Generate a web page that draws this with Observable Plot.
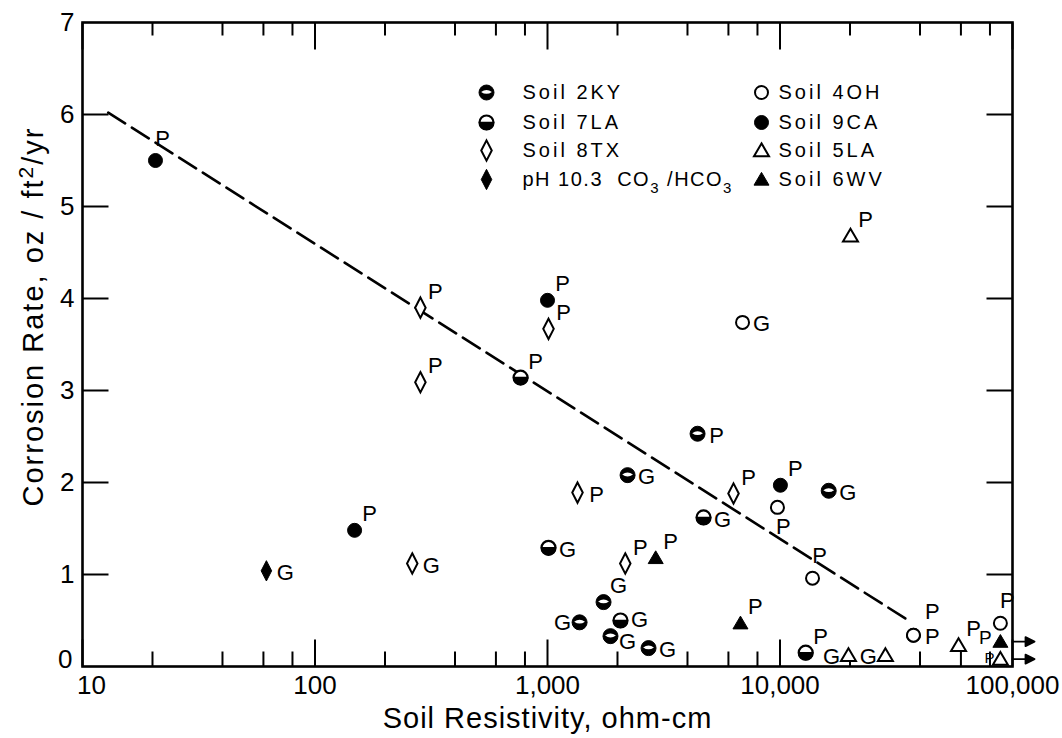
<!DOCTYPE html>
<html><head><meta charset="utf-8">
<script src="https://cdn.jsdelivr.net/npm/d3@7"></script>
<script src="https://cdn.jsdelivr.net/npm/@observablehq/plot@0.6"></script>
<style>
body{margin:0;background:#fff}
#chart{position:relative;width:1062px;height:738px}
</style>
</head><body><div id="chart"></div>
<script>
// ---------- data ----------
const soil = ["9CA","8TX","8TX","9CA","8TX","7LA","2KY","2KY","8TX","8TX",
              "7LA","9CA","4OH","2KY","7LA","8TX","6WV","4OH","9CA","pH",
              "8TX","4OH","5LA","2KY","2KY","7LA","2KY","2KY","6WV","7LA",
              "5LA","5LA","4OH","4OH","5LA","4OH","6WV","5LA"];
const resistivity = [20.6,284,284,1000,1010,766,4420,2210,1346,6310,
                     4690,10040,9750,16200,1010,2160,2920,13800,148,61.8,
                     262,6900,20100,1374,1742,2060,1866,2720,6760,12900,
                     19700,28400,37500,37500,58600,88700,88700,88700];
const rate = [5.50,3.90,3.09,3.98,3.67,3.14,2.53,2.08,1.89,1.88,
              1.62,1.97,1.73,1.91,1.29,1.12,1.18,0.96,1.48,1.04,
              1.12,3.74,4.68,0.48,0.70,0.50,0.33,0.20,0.47,0.15,
              0.12,0.12,0.34,0.34,0.23,0.47,0.27,0.08];
const pointLabel = ["P","P","P","P","P","P","P","G","P","P",
                    "G","P","P","G","G","P","P","P","P","G",
                    "G","G","P","G","G","G","G","G","P","P",
                    "G","G","P","P","P","P","P","P"];
const labelSide = ["t","tr","tr","tr","tr","tr","r","r","r","tr",
                   "r","tr","b","r","r","tr","tr","t","tr","r",
                   "r","r","tr","l","tr","ru","rd","r","tr","tr",
                   "l","l","ur","r","tr","t","el","ell"];
const beyondRange = [36, 37];        // rows plotted at the edge with an arrow (> 100,000)

const trendResistivity = [12.9, 34700];
const trendRate = [6.02, 0.52];

const legendSoil = ["2KY","7LA","8TX","pH","4OH","9CA","5LA","6WV"];
const legendText = ["Soil 2KY","Soil 7LA","Soil 8TX","pH 10.3  CO3 /HCO3",
                    "Soil 4OH","Soil 9CA","Soil 5LA","Soil 6WV"];

const xTickValues = [10,100,1000,10000,100000];
const xMinorTicks = [20,40,60,80,200,400,600,800,2000,4000,6000,8000,20000,40000,60000,80000];
const yTickValues = [0,1,2,3,4,5,6,7];
const xTitle = "Soil Resistivity, ohm-cm";
const yTitle = "Corrosion Rate, oz / ft2/yr";

// ---------- build ----------
const rows = soil.map((s,i)=>({soil:s,res:resistivity[i],rate:rate[i],label:pointLabel[i],side:labelSide[i],beyond:beyondRange.includes(i)}));
const trend = trendResistivity.map((x,i)=>({res:x,rate:trendRate[i]}));

const sym = draw => ({draw});
const rad = s => Math.sqrt(s/Math.PI);
const halfBottom = sym((c,s)=>{const r=rad(s); c.moveTo(r,0); c.arc(0,0,r,0,Math.PI); c.closePath();});
const lens = sym((c,s)=>{const r=rad(s); c.moveTo(-0.72*r,-0.08*r); c.quadraticCurveTo(0,-0.6*r,0.72*r,-0.08*r); c.quadraticCurveTo(0,0.42*r,-0.72*r,-0.08*r); c.closePath();});
const diamondTall = sym((c,s)=>{const r=rad(s); c.moveTo(0,-1.45*r); c.lineTo(0.75*r,0); c.lineTo(0,1.45*r); c.lineTo(-0.75*r,0); c.closePath();});
const tri = sym((c,s)=>{const r=rad(s); c.moveTo(0,-0.95*r); c.lineTo(r,0.75*r); c.lineTo(-r,0.75*r); c.closePath();});
const tickShape = {draw(c,l){c.moveTo(0,0); c.lineTo(0,-l);}};
const arrowShape = {draw(c,l){c.moveTo(0,0); c.lineTo(0,-l+6); c.moveTo(0,-l); c.lineTo(4.5,-l+9); c.lineTo(-4.5,-l+9); c.closePath();}};

const styles = {
  "2KY":[{symbol:"circle",fill:"black",stroke:"black",strokeWidth:1,r:7.5},{symbol:lens,fill:"white",r:7.5}],
  "7LA":[{symbol:"circle",fill:"white",stroke:"black",strokeWidth:2.2,r:7},{symbol:halfBottom,fill:"black",stroke:"black",strokeWidth:1.5,r:7}],
  "8TX":[{symbol:diamondTall,fill:"white",stroke:"black",strokeWidth:2,r:7}],
  "pH":[{symbol:diamondTall,fill:"black",stroke:"black",strokeWidth:1,r:7}],
  "4OH":[{symbol:"circle",fill:"white",stroke:"black",strokeWidth:2,r:6.5}],
  "9CA":[{symbol:"circle",fill:"black",stroke:"black",strokeWidth:1,r:7}],
  "5LA":[{symbol:tri,fill:"white",stroke:"black",strokeWidth:2,r:7.5}],
  "6WV":[{symbol:tri,fill:"black",stroke:"black",strokeWidth:1,r:7.5}]
};
// label placement relative to the symbol: [dx, dy, fontSize]
const offsets = {t:[7,-22,22],tr:[15,-16,22],ur:[19,-23,22],r:[19,2,22],ru:[19,-1,22],rd:[17,6,22],
                 b:[6,20,22],l:[-17,1,22],el:[-15,-4,19],ell:[-11,-1,15]};

const FONT = "'Liberation Sans', Arial, sans-serif";
const marks = [];
marks.push(Plot.frame({stroke:"black",strokeWidth:2.6}));
// inward ticks
const tk = (data, opts) => Plot.vector(data, {shape:tickShape, anchor:"start", stroke:"black", strokeWidth:2, strokeLinecap:"butt", ...opts});
marks.push(tk(xTickValues, {x:d=>d, y:()=>0, rotate:0, length:27}));
marks.push(tk(xMinorTicks, {x:d=>d, y:()=>0, rotate:0, length:15}));
marks.push(tk(xTickValues, {x:d=>d, y:()=>7, rotate:180, length:27}));
marks.push(tk(xMinorTicks, {x:d=>d, y:()=>7, rotate:180, length:13}));
marks.push(tk(yTickValues.slice(1,7), {x:()=>10, y:d=>d, rotate:90, length:26}));
marks.push(tk(yTickValues.slice(1,7), {x:()=>100000, y:d=>d, rotate:-90, length:26}));
// trend line
marks.push(Plot.line(trend, {x:"res", y:"rate", stroke:"black", strokeWidth:2.6, strokeDasharray:"20,8"}));
// arrows beyond 100,000
marks.push(Plot.vector(rows.filter(d=>d.beyond), {x:()=>100000, y:"rate", rotate:90, length:22, anchor:"start", shape:arrowShape, stroke:"black", fill:"black", strokeWidth:1.8}));
// points
for (const k of Object.keys(styles)) {
  const sub = rows.filter(d=>d.soil===k);
  for (const layer of styles[k]) marks.push(Plot.dot(sub, {x:"res", y:"rate", ...layer}));
}
// point labels
for (const [side,[dx,dy,fs]] of Object.entries(offsets)) {
  marks.push(Plot.text(rows.filter(d=>d.side===side), {x:"res", y:"rate", text:"label", dx, dy, fontSize:fs, fill:"black"}));
}
// legend
const colSym = [404, 679], colText = [440, 696], rowY = [70, 100, 128, 157];
legendSoil.forEach((k,i)=>{
  const col = Math.floor(i/4), row = i%4;
  for (const layer of styles[k]) marks.push(Plot.dot([k], {frameAnchor:"top-left", dx:colSym[col], dy:rowY[row], ...layer}));
  marks.push(Plot.text([legendText[i]], {text:d=>d, frameAnchor:"top-left", lineAnchor:"middle", dx:colText[col], dy:rowY[row], textAnchor:"start", fontSize:20, fill:"black"}));
});
// axes (the first labels are nudged apart at the corner, as in the original)
marks.push(Plot.axisX({ticks:xTickValues.slice(1), tickSize:0, tickPadding:9, tickFormat:d3.format(","), fontSize:26, label:null}));
marks.push(Plot.axisX({ticks:xTickValues.slice(0,1), tickSize:0, tickPadding:9, dx:9, tickFormat:d3.format(","), fontSize:26, label:null}));
marks.push(Plot.axisY({ticks:yTickValues.slice(1), tickSize:0, tickPadding:8, tickFormat:d3.format("d"), fontSize:26, label:null}));
marks.push(Plot.axisY({ticks:yTickValues.slice(0,1), tickSize:0, tickPadding:10, dy:-7, tickFormat:d3.format("d"), fontSize:26, label:null}));
marks.push(Plot.text([xTitle], {text:d=>d, frameAnchor:"bottom", lineAnchor:"middle", textAnchor:"middle", dy:52, fontSize:29, fill:"black"}));
marks.push(Plot.text([yTitle], {text:d=>d, frameAnchor:"left", lineAnchor:"middle", textAnchor:"middle", dx:-49, dy:-28, rotate:-90, fontSize:29, fill:"black"}));

const chart = Plot.plot({
  width:1062, height:738,
  marginTop:22, marginRight:50, marginBottom:72, marginLeft:82,
  x:{type:"log", domain:[10,100000]},
  y:{domain:[0,7]},
  style:{fontFamily:FONT, background:"white", color:"black", overflow:"visible"},
  marks
});
document.getElementById("chart").appendChild(chart);

// legend subscripts, title superscript and letter spacing
d3.select(chart).selectAll("text").each(function(){
  const t = this.textContent;
  if (legendText.includes(t)) {
    this.setAttribute("letter-spacing","3");
    if (t.includes("CO3")) {
      this.setAttribute("letter-spacing","1.5");
      this.textContent = "";
      const sel = d3.select(this);
      sel.append("tspan").text("pH 10.3\u00a0\u00a0CO");
      sel.append("tspan").attr("dy",7).attr("font-size",15).text("3");
      sel.append("tspan").attr("dy",-7).text("\u00a0/HCO");
      sel.append("tspan").attr("dy",7).attr("font-size",15).text("3");
    }
  } else if (t === xTitle) {
    this.setAttribute("letter-spacing","1");
  } else if (t === yTitle) {
    this.setAttribute("letter-spacing","2");
    this.textContent = "";
    const sel = d3.select(this);
    sel.append("tspan").text("Corrosion Rate, oz / ft");
    sel.append("tspan").attr("dy",-10).attr("font-size",21).text("2");
    sel.append("tspan").attr("dy",10).text("/yr");
  }
});
</script>
</body></html>
